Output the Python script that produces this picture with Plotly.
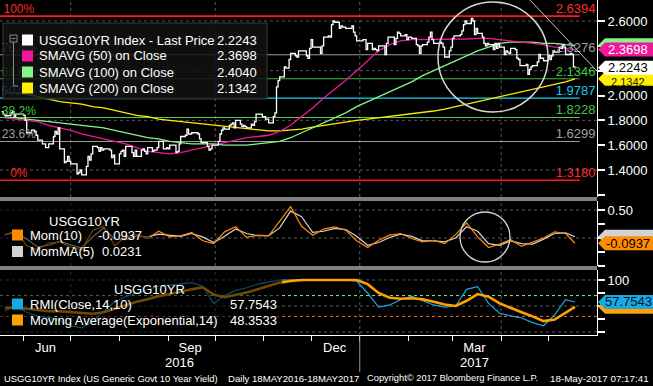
import pandas as pd
import plotly.graph_objects as go

W, H = 653, 386
FONT = "Liberation Sans, Arial, sans-serif"

# ---------------- data ----------------
PRICE = [
    1.87, 1.85, 1.84,
    1.84, 1.86, 1.87, 1.83, 1.85,
    1.85, 1.85, 1.84, 1.80, 1.70,
    1.72, 1.72, 1.71, 1.68, 1.64,
    1.61, 1.61, 1.58, 1.58, 1.61,
    1.67, 1.71, 1.69, 1.74, 1.57,
    1.46, 1.47, 1.51, 1.47, 1.45,
    1.45, 1.37, 1.38, 1.40, 1.36,
    1.43, 1.51, 1.48, 1.53, 1.59,
    1.58, 1.55, 1.58, 1.56, 1.57,
    1.57, 1.56, 1.50, 1.52, 1.45,
    1.53, 1.55, 1.56, 1.51, 1.59,
    1.59, 1.54, 1.51, 1.56, 1.51,
    1.56, 1.57, 1.55, 1.53, 1.58,
    1.55, 1.56, 1.56, 1.58, 1.63,
    1.57, 1.57, 1.58, 1.57, 1.60,
    1.60, 1.54, 1.55, 1.61, 1.67,
    1.68, 1.73, 1.69, 1.69, 1.70,
    1.70, 1.69, 1.65, 1.62, 1.62,
    1.59, 1.56, 1.57, 1.60, 1.60,
    1.63, 1.69, 1.72, 1.74, 1.73,
    1.76, 1.77, 1.78, 1.74, 1.80,
    1.77, 1.75, 1.76, 1.75, 1.74,
    1.77, 1.76, 1.79, 1.85, 1.85,
    1.83, 1.83, 1.81, 1.81, 1.78,
    1.83, 1.86, 2.07, 2.12, 2.15,
    2.23, 2.22, 2.22, 2.29, 2.34,
    2.32, 2.31, 2.36, 2.36, 2.36,
    2.32, 2.30, 2.38, 2.45, 2.39,
    2.39, 2.39, 2.34, 2.40, 2.47,
    2.48, 2.47, 2.57, 2.60, 2.59,
    2.54, 2.56, 2.55, 2.55, 2.54,
    2.54, 2.56, 2.51, 2.48, 2.44,
    2.44, 2.45, 2.45, 2.37, 2.42,
    2.37, 2.38, 2.37, 2.36, 2.40,
    2.40, 2.33, 2.42, 2.47, 2.47,
    2.41, 2.46, 2.51, 2.50, 2.48,
    2.49, 2.45, 2.47, 2.47, 2.46,
    2.41, 2.40, 2.34, 2.40, 2.41,
    2.43, 2.47, 2.51, 2.45, 2.42,
    2.42, 2.43, 2.42, 2.39, 2.31,
    2.36, 2.39, 2.46, 2.48, 2.48,
    2.49, 2.52, 2.57, 2.60, 2.58,
    2.62, 2.60, 2.49, 2.54, 2.50,
    2.47, 2.42, 2.40, 2.42, 2.41,
    2.37, 2.42, 2.38, 2.42, 2.39,
    2.33, 2.36, 2.35, 2.34, 2.38,
    2.37, 2.30, 2.29, 2.24, 2.24,
    2.25, 2.17, 2.21, 2.23, 2.24,
    2.27, 2.33, 2.30, 2.30, 2.28,
    2.32, 2.29, 2.32, 2.36, 2.35,
    2.39, 2.38, 2.41, 2.39, 2.33,
    2.34, 2.33, 2.23, 2.2243,
]
START = "2016-05-18"
DATES = pd.bdate_range(START, periods=len(PRICE))

WEEK_DATES = list(pd.date_range("2016-05-20", "2017-05-12", freq="W-FRI")) + [pd.Timestamp("2017-05-18")]

SMA50 = [1.82, 1.81, 1.80, 1.79, 1.76, 1.74, 1.72, 1.69, 1.67, 1.65,
         1.63, 1.61, 1.58, 1.55, 1.54, 1.53, 1.54, 1.56, 1.58, 1.60,
         1.62, 1.64, 1.66, 1.67, 1.68, 1.71, 1.76, 1.83, 1.90, 1.98,
         2.05, 2.12, 2.20, 2.28, 2.36, 2.41, 2.44, 2.45, 2.45, 2.45,
         2.45, 2.45, 2.455, 2.46, 2.46, 2.45, 2.44, 2.43, 2.42, 2.41,
         2.39, 2.38, 2.3698]
SMA100 = [1.83, 1.82, 1.81, 1.80, 1.79, 1.78, 1.77, 1.76, 1.75, 1.74,
          1.72, 1.70, 1.68, 1.66, 1.65, 1.63, 1.62, 1.61, 1.61, 1.61,
          1.60, 1.60, 1.60, 1.61, 1.62, 1.63, 1.66, 1.70, 1.74, 1.78,
          1.82, 1.86, 1.91, 1.95, 1.99, 2.03, 2.07, 2.11, 2.16, 2.20,
          2.24, 2.28, 2.32, 2.36, 2.39, 2.42, 2.43, 2.43, 2.43, 2.42,
          2.42, 2.41, 2.4040]
SMA200 = [2.03, 2.02, 2.01, 1.99, 1.97, 1.95, 1.94, 1.93, 1.91, 1.90,
          1.88, 1.86, 1.84, 1.83, 1.81, 1.80, 1.79, 1.78, 1.77, 1.76,
          1.75, 1.74, 1.73, 1.72, 1.715, 1.715, 1.72, 1.73, 1.745, 1.76,
          1.775, 1.79, 1.80, 1.81, 1.82, 1.83, 1.84, 1.85, 1.86, 1.875,
          1.89, 1.91, 1.93, 1.95, 1.97, 1.99, 2.01, 2.03, 2.05, 2.07,
          2.09, 2.11, 2.1342]

MOM = [0.05, 0.14, -0.14, -0.21, -0.09, -0.07, -0.16, -0.21, 0.14, 0.21,
       -0.14, 0.02, 0.06, -0.01, 0.12, 0.02, 0.04, 0.10, -0.05, -0.10,
       0.11, 0.20, 0.01, 0.05, 0.04, 0.30, 0.56, 0.21, 0.05, 0.16,
       0.20, 0.14, -0.05, -0.17, -0.04, 0.05, 0.08, -0.01, -0.07, -0.04,
       -0.10, 0.06, 0.27, 0.02, -0.17, -0.11, -0.03, -0.15, -0.08, 0.00,
       0.11, 0.08, -0.0937]
MOMMA = [0.06, 0.10, -0.02, -0.16, -0.13, -0.06, -0.12, -0.18, 0.02, 0.18,
         -0.02, -0.03, 0.04, 0.02, 0.07, 0.05, 0.03, 0.08, 0.02, -0.08,
         0.03, 0.16, 0.08, 0.04, 0.04, 0.18, 0.48, 0.38, 0.10, 0.12,
         0.17, 0.15, 0.03, -0.13, -0.08, 0.01, 0.07, 0.03, -0.05, -0.05,
         -0.07, 0.00, 0.20, 0.12, -0.10, -0.13, -0.05, -0.10, -0.11, -0.02,
         0.08, 0.09, 0.0231]

RMI = [40, 50, 38, 30, 28, 22, 12, 8, 20, 40,
       58, 68, 75, 82, 88, 90, 93, 95, 88, 55,
       70, 80, 85, 92, 96, 100, 100, 100, 100, 100,
       100, 100, 98, 75, 48, 52, 62, 69, 60, 52,
       48, 50, 82, 87, 55, 36, 31, 27, 18, 12,
       33, 62, 57.7543]
RMI_EMA = [46, 47, 45, 42, 40, 40, 38, 36, 35, 38,
           45, 52, 58, 63, 69, 73, 78, 82, 86, 72,
           67, 71, 76, 82, 89, 95, 98, 100, 100, 100,
           100, 100, 100, 92, 75, 66, 64, 65, 63, 58,
           53, 50, 60, 73, 68, 55, 46, 38, 30, 21,
           24, 38, 48.3533]

FIB_LEVELS = [2.6394, 2.3276, 2.1346, 1.9787, 1.8228, 1.6299, 1.3180]
FIB_PCT = ["100%", "76.4%", "61.8%", "50.0%", "38.2%", "23.6%", "0%"]

MAIN_TICKS = [1.2, 1.4, 1.6, 1.8, 2.0, 2.2, 2.4, 2.6]
MAIN_TICK_TEXT = ["", "1.4000", "1.6000", "1.8000", "2.0000", "", "", "2.6000"]
MOM_TICKS = [-0.5, -0.25, 0, 0.25, 0.5]
MOM_TICK_TEXT = ["", "", "", "", "0.50"]
RMI_TICKS = [0, 25, 50, 75, 100]
RMI_TICK_TEXT = ["", "", "", "", "100"]
MONTH_STARTS = ["2016-06-01", "2016-07-01", "2016-08-01", "2016-09-01", "2016-10-01",
                "2016-11-01", "2016-12-01", "2017-01-01", "2017-02-01", "2017-03-01",
                "2017-04-01", "2017-05-01"]
MONTH_LABEL_DATES = ["2016-06-15", "2016-09-15", "2016-12-16", "2017-03-15"]
MONTH_LABELS = ["Jun", "Sep", "Dec", "Mar"]
YEAR_LABEL_DATES = ["2016-09-08", "2017-03-15"]
YEAR_LABELS = ["2016", "2017"]
QUARTER_STARTS = ["2016-07-01", "2016-10-01", "2017-01-01", "2017-04-01"]
GRID_MAIN = [1.4, 1.8, 2.2, 2.6]
GRID_MOM = [0.5, 0.0]
GRID_RMI = [0, 50, 100]

# ---------------- styling / geometry ----------------
PINK, LGREEN, YELLOW = "#f0179b", "#86f586", "#ffee00"
ORANGE, LGREY, CYAN, EMA_OR = "#ff8c00", "#d2d2d2", "#1aa8e2", "#ffa200"
FIB_LINE_COLORS = ["#ff1a1a", "#9a9a9a", "#3fb43f", "#16d0f2", "#58c858", "#9a9a9a", "#ff1a1a"]
FIB_TEXT_COLORS = ["#ff2a2a", "#a0a0a0", "#3fc43f", "#19c8f5", "#44c044", "#a0a0a0", "#ff2a2a"]


def px(x):
    return x / W


def py(y):
    return 1 - y / H


X_DOM = [0, px(597)]
Y1_DOM = [py(197), 1]
Y2_DOM = [py(266), py(201)]
Y3_DOM = [py(335), py(270)]
X_RANGE = ["2016-05-17", "2017-06-01"]
Y1_RANGE = [1.1826, 2.7691]
Y2_RANGE = [-0.5, 0.6607]
Y3_RANGE = [-5.77, 119.2]
S1 = 197 / (Y1_RANGE[1] - Y1_RANGE[0])
S2 = 65 / (Y2_RANGE[1] - Y2_RANGE[0])
S3 = 65 / (Y3_RANGE[1] - Y3_RANGE[0])

fig = go.Figure()

# main panel traces
fig.add_trace(go.Scatter(x=WEEK_DATES, y=SMA200, mode="lines", line=dict(color=YELLOW, width=1.3), yaxis="y"))
fig.add_trace(go.Scatter(x=WEEK_DATES, y=SMA100, mode="lines", line=dict(color=LGREEN, width=1.3), yaxis="y"))
fig.add_trace(go.Scatter(x=WEEK_DATES, y=SMA50, mode="lines", line=dict(color=PINK, width=1.3), yaxis="y"))
fig.add_trace(go.Scatter(x=DATES, y=PRICE, mode="lines", line=dict(color="white", width=1.3, shape="hv"), yaxis="y"))

# fib labels (text traces so the legend box dims them)
fig.add_trace(go.Scatter(x=["2016-05-29"] * len(FIB_LEVELS), y=FIB_LEVELS, mode="text", text=FIB_PCT,
                         textposition="top center", textfont=dict(color=FIB_TEXT_COLORS, size=12, family=FONT),
                         yaxis="y", hoverinfo="skip"))
fig.add_trace(go.Scatter(x=["2017-05-31"] * len(FIB_LEVELS), y=FIB_LEVELS, mode="text",
                         text=[f"{v:.4f}" for v in FIB_LEVELS],
                         textposition="top left", textfont=dict(color=FIB_TEXT_COLORS, size=13, family=FONT),
                         yaxis="y", hoverinfo="skip"))

# momentum panel
fig.add_trace(go.Scatter(x=WEEK_DATES, y=MOMMA, mode="lines", line=dict(color=LGREY, width=1.2), yaxis="y2"))
fig.add_trace(go.Scatter(x=WEEK_DATES, y=MOM, mode="lines", line=dict(color=ORANGE, width=1.2), yaxis="y2"))

# RMI panel
fig.add_trace(go.Scatter(x=WEEK_DATES, y=RMI, mode="lines", line=dict(color=CYAN, width=1.2), yaxis="y3"))
fig.add_trace(go.Scatter(x=WEEK_DATES, y=RMI_EMA, mode="lines", line=dict(color=EMA_OR, width=2.6), yaxis="y3"))

shapes = []
ann = []

# grids (below)
for yref, dom, vals in (("y", Y1_DOM, GRID_MAIN), ("y2", Y2_DOM, GRID_MOM), ("y3", Y3_DOM, GRID_RMI)):
    for v in vals:
        shapes.append(dict(type="line", xref="paper", yref=yref, x0=0, x1=X_DOM[1], y0=v, y1=v,
                           line=dict(color="#5a5a5a", width=1, dash="dot"), layer="below"))
    for q in QUARTER_STARTS:
        shapes.append(dict(type="line", xref="x", yref="paper", x0=q, x1=q, y0=dom[0], y1=dom[1],
                           line=dict(color="#5a5a5a", width=1, dash="dot"), layer="below"))

shapes.append(dict(type="line", xref="paper", yref="y3", x0=0, x1=X_DOM[1], y0=70, y1=70,
                   line=dict(color="#8cf08c", width=1, dash="dot"), layer="below"))
shapes.append(dict(type="line", xref="paper", yref="y3", x0=0, x1=X_DOM[1], y0=30, y1=30,
                   line=dict(color="#ff6a3a", width=1, dash="dot"), layer="below"))

# fib lines
for lvl, col, i in zip(FIB_LEVELS, FIB_LINE_COLORS, range(len(FIB_LEVELS))):
    shapes.append(dict(type="line", xref="x", yref="y", x0="2016-05-17", x1="2017-05-21", y0=lvl, y1=lvl,
                       line=dict(color=col, width=1.6 if i in (0, 6) else 1.1), layer="below"))

# legend overlays
shapes.append(dict(type="rect", xref="paper", yref="paper", x0=px(3), x1=px(267), y0=py(99), y1=py(23),
                   fillcolor="rgba(18,18,18,0.86)", line=dict(color="#3c3c3c", width=1), layer="above"))
shapes.append(dict(type="rect", xref="paper", yref="paper", x0=0, x1=px(150), y0=py(266), y1=py(201),
                   fillcolor="rgba(0,0,0,0.55)", line=dict(width=0), layer="above"))
shapes.append(dict(type="rect", xref="paper", yref="paper", x0=0, x1=px(282), y0=py(335), y1=py(270),
                   fillcolor="rgba(0,0,0,0.55)", line=dict(width=0), layer="above"))

# legend tree icon
shapes.append(dict(type="rect", xref="paper", yref="paper", x0=px(10), x1=px(17), y0=py(42), y1=py(35),
                   line=dict(color="#8a8a8a", width=1), layer="above"))
shapes.append(dict(type="line", xref="paper", yref="paper", x0=px(11.5), x1=px(15.5), y0=py(38.5), y1=py(38.5),
                   line=dict(color="#8a8a8a", width=1), layer="above"))
shapes.append(dict(type="line", xref="paper", yref="paper", x0=px(13.5), x1=px(13.5), y0=py(42), y1=py(86),
                   line=dict(color="#8a8a8a", width=1), layer="above"))
shapes.append(dict(type="line", xref="paper", yref="paper", x0=px(13.5), x1=px(18), y0=py(86), y1=py(86),
                   line=dict(color="#8a8a8a", width=1), layer="above"))

# circles and trend line
shapes.append(dict(type="circle", xref="paper", yref="paper", x0=px(438), x1=px(548), y0=py(112), y1=py(2),
                   line=dict(color="#d6d6d6", width=1.5), layer="above"))
shapes.append(dict(type="circle", xref="paper", yref="paper", x0=px(460), x1=px(510), y0=py(262), y1=py(212),
                   line=dict(color="#d6d6d6", width=1.3), layer="above"))
shapes.append(dict(type="line", xref="paper", yref="paper", x0=px(530), x1=px(597), y0=py(0), y1=py(71),
                   line=dict(color="#c4c4c4", width=1), layer="above"))

# separators between panels
for a, b in ((197, 201), (266, 270)):
    shapes.append(dict(type="rect", xref="paper", yref="paper", x0=0, x1=X_DOM[1], y0=py(b), y1=py(a),
                       fillcolor="#808080", line=dict(width=0), layer="above"))
# year separator
shapes.append(dict(type="line", xref="x", yref="paper", x0="2017-01-01", x1="2017-01-01", y0=py(335), y1=py(372),
                   line=dict(color="#9a9a9a", width=1), layer="above"))


def tag(yref, value, scale, fill, text=None, tcolor="black", yshift=0, size=13):
    hh = 7 / scale
    x_tip, x_body = px(598), px(605)
    path = (f"M {x_tip},{value} L {x_body},{value + hh} L 1,{value + hh} "
            f"L 1,{value - hh} L {x_body},{value - hh} Z")
    shapes.append(dict(type="path", xref="paper", yref=yref, path=path, fillcolor=fill,
                       line=dict(width=0), layer="above"))
    if text is not None:
        ann.append(dict(xref="paper", yref=yref, x=px(628), y=value, yshift=yshift, text=text, showarrow=False,
                        xanchor="center", yanchor="middle", font=dict(color=tcolor, size=size, family=FONT)))


tag("y", SMA100[-1], S1, LGREEN)
tag("y", SMA50[-1], S1, PINK, f"{SMA50[-1]:.4f}", "white")
tag("y", SMA200[-1], S1, YELLOW)
tag("y", PRICE[-1], S1, "white", f"{PRICE[-1]:.4f}", "black")
ann.append(dict(xref="paper", yref="y", x=px(628), y=SMA200[-1], yshift=-3.5, text=f"{SMA200[-1]:.4f}",
                showarrow=False, xanchor="center", yanchor="middle",
                font=dict(color="#222200", size=11, family=FONT)))
tag("y2", MOMMA[-1], S2, LGREY)
tag("y2", MOM[-1], S2, ORANGE, f"{MOM[-1]:.4f}", "black")
tag("y3", RMI_EMA[-1], S3, EMA_OR)
tag("y3", RMI[-1], S3, CYAN, f"{RMI[-1]:.4f}", "#001428")

# legends


def square(x0, yc, color):
    shapes.append(dict(type="rect", xref="paper", yref="paper", x0=px(x0), x1=px(x0 + 11), y0=py(yc + 5.5),
                       y1=py(yc - 5.5), fillcolor=color, line=dict(width=0), layer="above"))


def text(x, y, s, anchor="left", color="white", size=13):
    ann.append(dict(xref="paper", yref="paper", x=px(x), y=py(y), text=s, showarrow=False, xanchor=anchor,
                    yanchor="middle", font=dict(color=color, size=size, family=FONT)))


main_rows = [("USGG10YR Index - Last Price", PRICE[-1], "white"),
             ("SMAVG (50) on Close", SMA50[-1], PINK),
             ("SMAVG (100) on Close", SMA100[-1], LGREEN),
             ("SMAVG (200) on Close", SMA200[-1], YELLOW)]
for i, (name, val, col) in enumerate(main_rows):
    yc = 40 + 16 * i
    square(22, yc, col)
    text(37, yc, name)
    text(259, yc, f"{val:.4f}", anchor="right")

text(47, 221, "USGG10YR")
square(12, 235, ORANGE)
text(28, 235, "Mom(10)")
text(144, 235, f"{MOM[-1]:.4f}", anchor="right")
square(12, 251.5, LGREY)
text(28, 251.5, "MomMA(5)")
text(144, 251.5, f"{MOMMA[-1]:.4f}", anchor="right")

text(112, 289, "USGG10YR")
square(12, 304, CYAN)
text(28, 304, "RMI(Close,14,10)")
text(228, 304, f"{RMI[-1]:.4f}")
square(12, 320, EMA_OR)
text(28, 320, "Moving Average(Exponential,14)")
text(228, 320, f"{RMI_EMA[-1]:.4f}")

# year labels
for d, s in zip(YEAR_LABEL_DATES, YEAR_LABELS):
    ann.append(dict(xref="x", yref="paper", x=d, y=py(362), text=s, showarrow=False, xanchor="center",
                    yanchor="middle", font=dict(color="white", size=13, family=FONT)))

# footer
text(2, 378, "USGG10YR Index (US Generic Govt 10 Year Yield)", size=9.4)
text(226, 378, "Daily 18MAY2016-18MAY2017", size=9.6)
text(365, 378, "Copyright\u00a9 2017 Bloomberg Finance L.P.", size=9.3)
text(651, 378, "18-May-2017 07:17:41", anchor="right", size=9.8)

yax_common = dict(side="right", anchor="x", showgrid=False, zeroline=False, showline=True, linecolor="white",
                  linewidth=1, ticks="outside", ticklen=7, tickwidth=2, tickcolor="white",
                  tickfont=dict(color="white", size=13, family=FONT), tickmode="array", fixedrange=True)

fig.update_layout(
    width=W, height=H, margin=dict(l=0, r=0, t=0, b=0),
    paper_bgcolor="black", plot_bgcolor="black", showlegend=False,
    font=dict(family=FONT, color="white"),
    xaxis=dict(domain=X_DOM, range=X_RANGE, anchor="y3", type="date", showgrid=False, zeroline=False,
               showline=True, linecolor="white", linewidth=1, tickmode="array",
               tickvals=MONTH_LABEL_DATES, ticktext=MONTH_LABELS, ticks="",
               tickfont=dict(color="white", size=13, family=FONT),
               minor=dict(tickmode="array", tickvals=MONTH_STARTS, ticks="outside", ticklen=5,
                          tickcolor="white", tickwidth=1, showgrid=False)),
    yaxis=dict(domain=Y1_DOM, range=Y1_RANGE, tickvals=MAIN_TICKS, ticktext=MAIN_TICK_TEXT, **yax_common),
    yaxis2=dict(domain=Y2_DOM, range=Y2_RANGE, tickvals=MOM_TICKS, ticktext=MOM_TICK_TEXT, **yax_common),
    yaxis3=dict(domain=Y3_DOM, range=Y3_RANGE, tickvals=RMI_TICKS, ticktext=RMI_TICK_TEXT, **yax_common),
    shapes=shapes, annotations=ann,
)

fig.write_html("out.html", config={"displayModeBar": False},
               post_script="document.body.style.margin='0';document.body.style.background='black';")
